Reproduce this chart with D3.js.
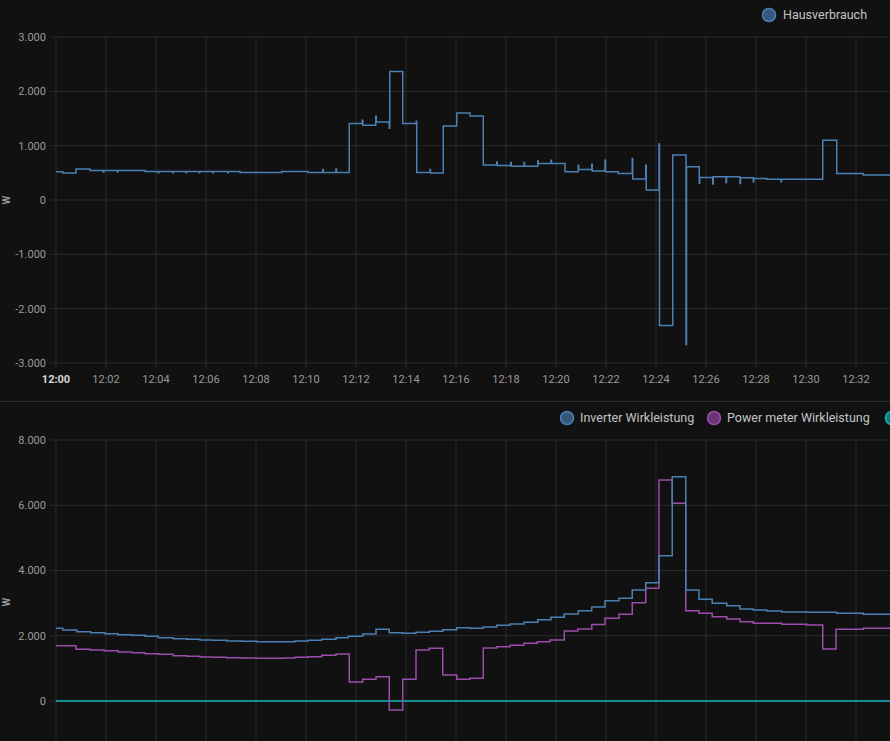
<!DOCTYPE html>
<html>
<head>
<meta charset="utf-8">
<script src="https://cdn.jsdelivr.net/npm/d3@7"></script>
<style>
  html, body { margin: 0; padding: 0; background: #111111; }
  svg { display: block; }
  text { font-family: Roboto, "Noto Sans", sans-serif; }
</style>
</head>
<body>
<svg id="chart" width="890" height="741"></svg>
<script>
// ---------------- DATA ----------------
// time in minutes after 12:00, value in W (step-after series)
const houseSeries = [
  [0, 520], [0.27, 495], [0.8, 570], [1.36, 545],
  [1.89, 515], [1.91, 545], [2.45, 515], [2.47, 545],
  [3.56, 525], [4.09, 500], [4.11, 525], [4.67, 500], [4.69, 525],
  [5.2, 500], [5.22, 525], [5.73, 500], [5.75, 525], [6.27, 500], [6.29, 525],
  [6.87, 500], [6.89, 525], [7.36, 508], [9.03, 525], [10.08, 508],
  [10.67, 560], [10.69, 508], [11.2, 570], [11.22, 508],
  [11.73, 1407], [12.25, 1470], [12.27, 1376], [12.79, 1540], [12.81, 1437],
  [13.33, 1320], [13.35, 2367], [13.87, 1407], [14.41, 1450], [14.43, 508],
  [14.96, 560], [14.98, 495], [15.49, 1363], [16.03, 1602], [16.56, 1547],
  [17.09, 642], [17.63, 700], [17.65, 635], [18.19, 690], [18.21, 620],
  [18.72, 690], [18.74, 620], [19.27, 720], [19.29, 673], [19.8, 730], [19.82, 673],
  [20.36, 520], [20.89, 640], [20.91, 563], [21.43, 660], [21.45, 532],
  [21.96, 730], [21.98, 520], [22.49, 490], [23.05, 765], [23.07, 385],
  [23.59, 640], [23.61, 183], [24.12, 1030], [24.14, -2312], [24.67, 826],
  [25.2, -2660], [25.22, 611], [25.73, 310], [25.75, 416], [26.27, 294], [26.29, 428],
  [26.8, 320], [26.82, 428], [27.36, 305], [27.38, 410], [27.89, 335], [27.91, 398],
  [28.43, 380], [29.0, 335], [29.02, 380], [30.67, 1100], [31.23, 490],
  [32.29, 459], [33.4, 459]
];

const inverterSeries = [
  [0, 2228], [0.27, 2176], [0.83, 2124], [1.39, 2094], [1.96, 2063], [2.48, 2032],
  [3.03, 2012], [3.56, 1983], [4.09, 1941], [4.69, 1910], [5.23, 1890], [5.76, 1870],
  [6.29, 1860], [6.83, 1839], [7.43, 1829], [8.03, 1818], [9.56, 1839], [10.09, 1860],
  [10.63, 1890], [11.2, 1941], [11.69, 1985], [12.27, 2054], [12.8, 2196], [13.33, 2094],
  [13.87, 2073], [14.4, 2104], [14.93, 2135], [15.47, 2186], [16.03, 2247], [16.56, 2227],
  [17.09, 2268], [17.63, 2319], [18.16, 2360], [18.72, 2411], [19.27, 2493], [19.8, 2565],
  [20.33, 2667], [20.89, 2769], [21.43, 2880], [21.96, 3074], [22.52, 3146], [23.05, 3402],
  [23.59, 3626], [24.12, 4454], [24.65, 6875], [25.19, 3402], [25.72, 3115], [26.25, 2994],
  [26.83, 2922], [27.36, 2820], [27.89, 2789], [28.43, 2759], [29.03, 2728], [30.03, 2718],
  [31.23, 2687], [32.29, 2657], [33.4, 2657]
];

const powerMeterSeries = [
  [0, 1696], [0.8, 1584], [1.36, 1563], [1.92, 1543], [2.49, 1502], [3.03, 1481],
  [3.56, 1450], [4.09, 1430], [4.69, 1389], [5.23, 1369], [5.76, 1349], [6.29, 1338],
  [6.83, 1328], [7.43, 1318], [8.03, 1308], [9.09, 1318], [9.56, 1338], [10.09, 1359],
  [10.63, 1400], [11.2, 1440], [11.73, 582], [12.27, 664], [12.8, 746], [13.33, -276],
  [13.87, 664], [14.4, 1563], [14.93, 1614], [15.47, 797], [16.03, 664], [16.56, 695],
  [17.09, 1624], [17.63, 1665], [18.16, 1706], [18.72, 1767], [19.25, 1818], [19.76, 1870],
  [20.33, 2146], [20.87, 2207], [21.43, 2345], [21.96, 2540], [22.52, 2660], [23.05, 3013],
  [23.59, 3453], [24.12, 6774], [24.65, 6060], [25.19, 2769], [25.72, 2687], [26.25, 2585],
  [26.83, 2513], [27.36, 2431], [27.89, 2380], [29.03, 2350], [30.03, 2330], [30.67, 1594],
  [31.2, 2197], [32.29, 2228], [33.4, 2228]
];

const thirdSeries = [[0, 0], [33.4, 0]];

const topLegend = ["Hausverbrauch"];
const bottomLegend = ["Inverter Wirkleistung", "Power meter Wirkleistung", ""];
const topYTicks = [-3000, -2000, -1000, 0, 1000, 2000, 3000];
const bottomYTicks = [0, 2000, 4000, 6000, 8000];
const yTitle = "W";

// ---------------- SETUP ----------------
const colors = { blue: "#4a80b4", purple: "#9c4cab", teal: "#12b5b7" };
const gridColor = "#2b2b2b";
const labelColor = "#9a9a9a";

const svg = d3.select("#chart");
const base = new Date(2024, 0, 1, 12, 0, 0);
const toDate = m => new Date(base.getTime() + m * 60000);
const xEnd = 33.36;

const x = d3.scaleTime().domain([base, toDate(xEnd)]).range([56, 890]);
const yTop = d3.scaleLinear().domain([-3000, 3000]).range([363, 37]);
const yBot = d3.scaleLinear().domain([0, 8000]).range([701, 440]);

const de = d3.formatLocale({ decimal: ",", thousands: ".", grouping: [3], currency: ["", "€"], minus: "-" });
const fmt = de.format(",");
const timeFmt = d3.timeFormat("%H:%M");
const xTicks = x.ticks(d3.timeMinute.every(2));

// ---------------- TOP PANEL ----------------
const gTop = svg.append("g");
gTop.selectAll("line.hg").data(topYTicks).join("line")
  .attr("x1", 50).attr("x2", 890)
  .attr("y1", d => yTop(d)).attr("y2", d => yTop(d))
  .attr("stroke", gridColor).attr("stroke-width", 1);
gTop.selectAll("line.vg").data(xTicks).join("line")
  .attr("x1", d => x(d)).attr("x2", d => x(d))
  .attr("y1", 37).attr("y2", 368)
  .attr("stroke", gridColor).attr("stroke-width", 1);
gTop.selectAll("text.yl").data(topYTicks).join("text")
  .attr("x", 46).attr("y", d => yTop(d)).attr("dy", "0.35em")
  .attr("text-anchor", "end").attr("fill", labelColor).attr("font-size", 11)
  .text(d => fmt(d));
gTop.selectAll("text.xl").data(xTicks).join("text")
  .attr("x", d => x(d)).attr("y", 383)
  .attr("text-anchor", "middle")
  .attr("fill", (d, i) => i === 0 ? "#d8d8d8" : labelColor)
  .attr("font-weight", (d, i) => i === 0 ? "bold" : "normal")
  .attr("font-size", 11)
  .text(d => timeFmt(d));
gTop.append("text").attr("transform", "translate(10,200) rotate(-90)")
  .attr("text-anchor", "middle").attr("fill", labelColor).attr("font-size", 10)
  .attr("font-weight", "bold").text(yTitle);

const lineTop = d3.line().curve(d3.curveStepAfter)
  .x(d => x(toDate(d[0]))).y(d => yTop(d[1]));
gTop.append("path").datum(houseSeries).attr("d", lineTop)
  .attr("fill", "none").attr("stroke", colors.blue).attr("stroke-width", 1.5);

const tl = gTop.append("g");
tl.append("circle").attr("cx", 769).attr("cy", 15).attr("r", 6.5)
  .attr("fill", "#34587c").attr("stroke", colors.blue).attr("stroke-width", 1.5);
tl.append("text").attr("x", 783).attr("y", 15).attr("dy", "0.35em")
  .attr("fill", "#c4c4c4").attr("font-size", 12.5).text(topLegend[0]);

svg.append("line").attr("x1", 0).attr("x2", 890).attr("y1", 401.5).attr("y2", 401.5)
  .attr("stroke", "#2c2c2c").attr("stroke-width", 1);

// ---------------- BOTTOM PANEL ----------------
const gBot = svg.append("g");
gBot.selectAll("line.hg").data(bottomYTicks).join("line")
  .attr("x1", 50).attr("x2", 890)
  .attr("y1", d => yBot(d)).attr("y2", d => yBot(d))
  .attr("stroke", gridColor).attr("stroke-width", 1);
gBot.selectAll("line.vg").data(xTicks).join("line")
  .attr("x1", d => x(d)).attr("x2", d => x(d))
  .attr("y1", 440).attr("y2", 741)
  .attr("stroke", gridColor).attr("stroke-width", 1);
gBot.selectAll("text.yl").data(bottomYTicks).join("text")
  .attr("x", 46).attr("y", d => yBot(d)).attr("dy", "0.35em")
  .attr("text-anchor", "end").attr("fill", labelColor).attr("font-size", 11)
  .text(d => fmt(d));
gBot.append("text").attr("transform", "translate(10,602) rotate(-90)")
  .attr("text-anchor", "middle").attr("fill", labelColor).attr("font-size", 10)
  .attr("font-weight", "bold").text(yTitle);

const lineBot = d3.line().curve(d3.curveStepAfter)
  .x(d => x(toDate(d[0]))).y(d => yBot(d[1]));
const botSeries = [
  { data: thirdSeries, color: colors.teal },
  { data: powerMeterSeries, color: colors.purple },
  { data: inverterSeries, color: colors.blue }
];
gBot.selectAll("path.s").data(botSeries).join("path")
  .attr("d", d => lineBot(d.data))
  .attr("fill", "none").attr("stroke", d => d.color).attr("stroke-width", 1.5);

const legItems = [
  { label: bottomLegend[0], color: colors.blue, fill: "#34587c", cx: 567 },
  { label: bottomLegend[1], color: colors.purple, fill: "#6a3576", cx: 714 },
  { label: bottomLegend[2], color: colors.teal, fill: "#0d7c7e", cx: 892 }
];
const bl = gBot.selectAll("g.leg").data(legItems).join("g");
bl.append("circle").attr("cx", d => d.cx).attr("cy", 418).attr("r", 6.5)
  .attr("fill", d => d.fill).attr("stroke", d => d.color).attr("stroke-width", 1.5);
bl.append("text").attr("x", d => d.cx + 13).attr("y", 418).attr("dy", "0.35em")
  .attr("fill", "#c4c4c4").attr("font-size", 12.5).text(d => d.label);
</script>
</body>
</html>
